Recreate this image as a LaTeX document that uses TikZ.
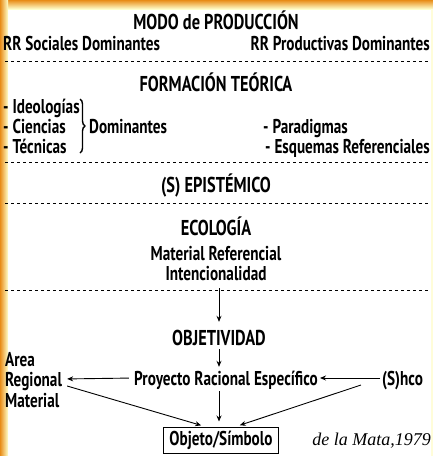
\documentclass[tikz,border=0pt]{standalone}
\usepackage{fontspec}
\setmainfont[FakeStretch=0.76]{PT Sans}
\newfontfamily\citefont{Liberation Serif}
\usetikzlibrary{arrows.meta,positioning,decorations.pathreplacing}

\begin{document}
\begin{tikzpicture}[x=1pt, y=-1pt,
    every node/.style={inner sep=0pt, text height=16pt, text depth=2pt, font=\bfseries\fontsize{20}{22}\selectfont},
    title/.style={font=\bfseries\fontsize{21.5}{23}\selectfont},
    sep/.style={dashed, line width=0.8pt},
    arr/.style={-{Stealth[length=6pt,width=5pt]}, line width=0.9pt}]
  \useasboundingbox (0,0) rectangle (433,456);
  % marco
  \shade[top color=orange!60!brown!90!yellow, bottom color=yellow!20] (0,0) rectangle (433,9);
  \shade[left color=orange!60!brown!90!yellow, right color=yellow!20] (0,0) rectangle (8,456);
  \fill[yellow!15] (431,9) rectangle (433,456);

  % modo de produccion
  \node[title] (modo) at (216,22) {MODO de PRODUCCIÓN};
  \node[anchor=west] (sociales) at (3,43) {RR Sociales Dominantes};
  \node[anchor=east] (productivas) at (430,43) {RR Productivas Dominantes};
  \draw[sep] (5,61) -- (430,61);

  % formacion teorica
  \node[title] (formacion) at (216,84) {FORMACIÓN TEÓRICA};
  \node[anchor=west] (ideo) at (3,106) {- Ideologías};
  \node[anchor=west] (cien) at (3,126) {- Ciencias};
  \node[anchor=west] (tec) at (3,146) {- Técnicas};
  \draw[decorate, decoration={brace, amplitude=5pt}, line width=1.4pt] (80,99) -- (80,153);
  \node[anchor=west] (domin) at (89,126) {Dominantes};
  \node[anchor=west] (paradig) at (263,126) {- Paradigmas};
  \node[anchor=east] (esquemas) at (430,146) {- Esquemas Referenciales};
  \draw[sep] (5,162) -- (430,162);

  \node[title] (episte) at (216,185) {(S) EPISTÉMICO};
  \draw[sep] (5,203) -- (430,203);

  % ecologia
  \node[title] (ecologia) at (216,228) {ECOLOGÍA};
  \node (materef) at (216,253) {Material Referencial};
  \node (intenc) at (216,273) {Intencionalidad};
  \draw[sep] (5,290) -- (430,290);
  \coordinate (corte) at (219,288);

  % objetividad
  \node[title] (objetiv) at (219,338) {OBJETIVIDAD};
  \node (proyecto) at (226,378) {Proyecto Racional Específico};
  \node[anchor=west] (area) at (5,359) {Area};
  \node[anchor=west] (regional) at (5,379) {Regional};
  \node[anchor=west] (material) at (5,400) {Material};
  \node[anchor=west] (shco) at (382,378) {(S)hco};
  \node[draw, line width=1pt, inner xsep=6pt, inner ysep=3pt, text height=15pt, text depth=5pt] (objeto) at (221,440) {Objeto/Símbolo};
  \node[anchor=east, font=\citefont\itshape\fontsize{18}{20}\selectfont] (cita) at (431,438) {de la Mata,1979};

  \draw[arr, shorten >=7pt] (corte) -- (corte |- objetiv.north);
  \draw[arr, shorten <=2pt, shorten >=2pt] (objetiv.south) -- (objetiv.south |- proyecto.north);
  \draw[arr, shorten <=5pt, shorten >=5pt] (proyecto.west) -- (regional.east);
  \draw[arr, shorten <=2pt, shorten >=2pt] (shco.west) -- (proyecto.east);
  \draw[arr, shorten >=4pt] ([xshift=5pt,yshift=-7pt]regional.east) -- ([xshift=-16pt]objeto.north);
  \draw[arr, shorten <=4pt, shorten >=5pt] (proyecto.south -| objetiv) -- (objeto.north -| objetiv);
  \draw[arr, shorten >=4pt] ([xshift=-21pt,yshift=-7pt]shco.west) -- ([xshift=15pt]objeto.north);
\end{tikzpicture}
\end{document}
